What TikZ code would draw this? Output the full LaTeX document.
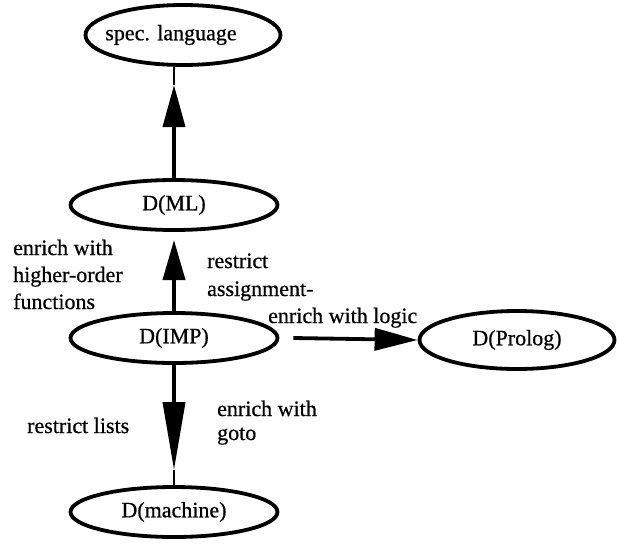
\documentclass[tikz,border=0pt]{standalone}
\usepackage{fontspec}
\setmainfont{Liberation Serif}
\newfontfamily\scanfont[FakeBold=0.6]{Liberation Serif}
\usetikzlibrary{shapes.geometric,arrows.meta}
\begin{document}
\begin{tikzpicture}[x=1pt,y=-1pt,
  dom/.style={ellipse, draw, line width=3.8pt, inner sep=0pt, minimum width=207pt, minimum height=50pt, font=\scanfont\fontsize{22}{26}\selectfont},
  lbl/.style={anchor=base west, inner sep=0pt, font=\scanfont\fontsize{22}{26}\selectfont},
  thinline/.style={line width=2.4pt},
  headed/.style={line width=3.8pt, -{Triangle[length=#1,width=22pt]}}
]
\useasboundingbox (0,0) rectangle (618,544);
\fill[white] (0,0) rectangle (618,544);
% domains
\node[dom, minimum width=195pt, minimum height=60pt] (spec) at (183,35) {\hspace*{-24pt}spec. language};
\node[dom] (ML) at (174,205) {D(ML)};
\node[dom] (IMP) at (174,338) {D(IMP)};
\node[dom, minimum width=195pt, minimum height=58pt] (PRO) at (517,340) {D(Prolog)};
\node[dom] (MAC) at (174,512) {D(machine)};
% arrow tips that stop short of a node
\coordinate (t1) at (174,85);
\coordinate (t2) at (174,240);
\coordinate (t4) at (174,470);
% connectors
\draw[headed=42pt] (ML.north) -- (t1);
\draw[thinline] (t1) -- (t1 |- spec.south);
\draw[headed=40pt] (IMP.north) -- (t2);
\draw[headed=43pt] ([xshift=14pt]IMP.east) -- (PRO.west);
\draw[headed=68pt] (IMP.south) -- (t4);
\draw[thinline] (t4) -- (MAC.north);
% labels
\node[lbl] (l1a) at (13,255) {enrich with};
\node[lbl] (l1b) at (13,282) {higher-order};
\node[lbl] (l1c) at (13,309) {functions};
\node[lbl] (l2a) at (207,268) {restrict};
\node[lbl] (l2b) at (207,296) {assignment-};
\node[lbl] (l3) at (268,323) {enrich with logic};
\node[lbl] (l4) at (27,433) {restrict lists};
\node[lbl] (l5a) at (217,416) {enrich with};
\node[lbl] (l5b) at (217,440) {goto};
\end{tikzpicture}
\end{document}
